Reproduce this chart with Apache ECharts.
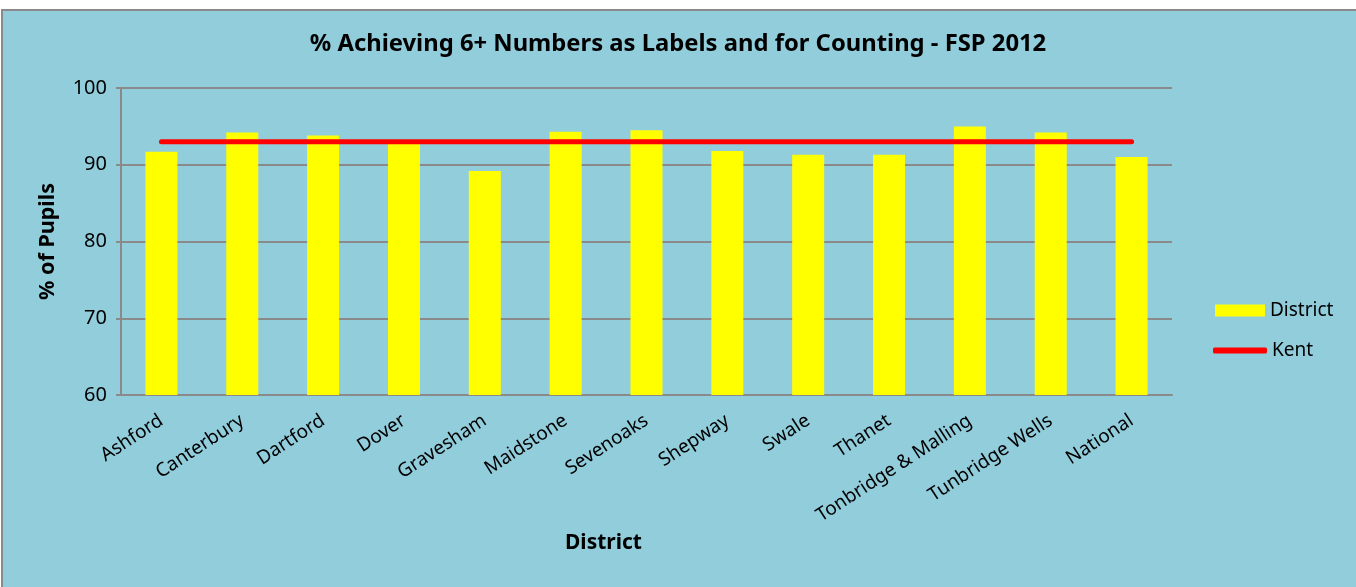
<!DOCTYPE html>
<html>
<head>
<meta charset="utf-8">
<script src="https://cdn.jsdelivr.net/npm/echarts@6/dist/echarts.min.js"></script>
<style>
  html, body { margin: 0; padding: 0; background: #ffffff; }
  #panel { position: absolute; left: 1px; top: 9px; width: 1355px; height: 578px;
           background: #92cddc; border-top: 2px solid #8a8a8a; border-left: 2px solid #8a8a8a; box-sizing: border-box; }
  #main { position: absolute; left: 0; top: 0; width: 1356px; height: 587px; }
</style>
</head>
<body>
<div id="panel"></div>
<div id="main"></div>
<script>
// districts along the bottom
var districts = ["Ashford", "Canterbury", "Dartford", "Dover", "Gravesham", "Maidstone", "Sevenoaks",
  "Shepway", "Swale", "Thanet", "Tonbridge & Malling", "Tunbridge Wells", "National"];
// % achieving per district
var districtValues = [91.7, 94.2, 93.8, 92.9, 89.2, 94.3, 94.5, 91.8, 91.3, 91.3, 95.0, 94.2, 91.0];
// Kent average, same for every district
var kentValues = [93.0, 93.0, 93.0, 93.0, 93.0, 93.0, 93.0, 93.0, 93.0, 93.0, 93.0, 93.0, 93.0];
var yTicks = [60, 70, 80, 90, 100];

var font = "'Noto Sans', 'DejaVu Sans', sans-serif";
var chart = echarts.init(document.getElementById('main'));

chart.setOption({
  animation: false,
  backgroundColor: 'transparent',
  textStyle: { fontFamily: font, color: '#000' },
  title: {
    text: '% Achieving 6+ Numbers as Labels and for Counting - FSP 2012',
    left: 'center',
    top: 27,
    textStyle: { fontFamily: font, fontSize: 23.8, fontWeight: 'bold', color: '#000' }
  },
  legend: [
    { data: [{ name: 'District', icon: 'rect' }], left: 1210, top: 296, orient: 'vertical',
      itemWidth: 50, itemHeight: 12, itemGap: 4,
      textStyle: { fontSize: 19, fontFamily: font, color: '#000' } },
    { data: [{ name: 'Kent', icon: 'roundRect' }], left: 1208, top: 336, orient: 'vertical',
      itemWidth: 54, itemHeight: 6, itemGap: 4,
      textStyle: { fontSize: 19, fontFamily: font, color: '#000' } }
  ],
  graphic: [
    { type: 'text', left: 565, top: 533,
      style: { text: 'District', font: 'bold 21px ' + font, fill: '#000' } }
  ],
  grid: { left: 121, right: 184, top: 88, bottom: 192 },
  xAxis: {
    type: 'category',
    data: districts,
    axisLine: { lineStyle: { color: '#8a8a8a', width: 2 } },
    axisTick: { lineStyle: { color: '#8a8a8a', width: 2 }, length: 5 },
    axisLabel: { rotate: 33, fontSize: 19, color: '#000', margin: 24, interval: 0 }
  },
  yAxis: {
    type: 'value',
    min: yTicks[0],
    max: yTicks[yTicks.length - 1],
    interval: 10,
    name: '% of Pupils',
    nameLocation: 'middle',
    nameGap: 62,
    nameTextStyle: { fontSize: 21.5, fontWeight: 'bold', fontFamily: font, color: '#000' },
    axisLine: { show: true, lineStyle: { color: '#8a8a8a', width: 2 } },
    axisTick: { show: true, lineStyle: { color: '#8a8a8a', width: 2 }, length: 5 },
    axisLabel: { fontSize: 20, color: '#000', margin: 14 },
    splitLine: { lineStyle: { color: '#8a8a8a', width: 2 } }
  },
  series: [
    {
      name: 'District',
      type: 'bar',
      data: districtValues,
      barWidth: 32,
      itemStyle: { color: '#ffff00' }
    },
    {
      name: 'Kent',
      type: 'line',
      data: kentValues,
      symbol: 'none',
      lineStyle: { color: '#ff0000', width: 5, cap: 'round' },
      itemStyle: { color: '#ff0000' }
    }
  ]
});
</script>
</body>
</html>
